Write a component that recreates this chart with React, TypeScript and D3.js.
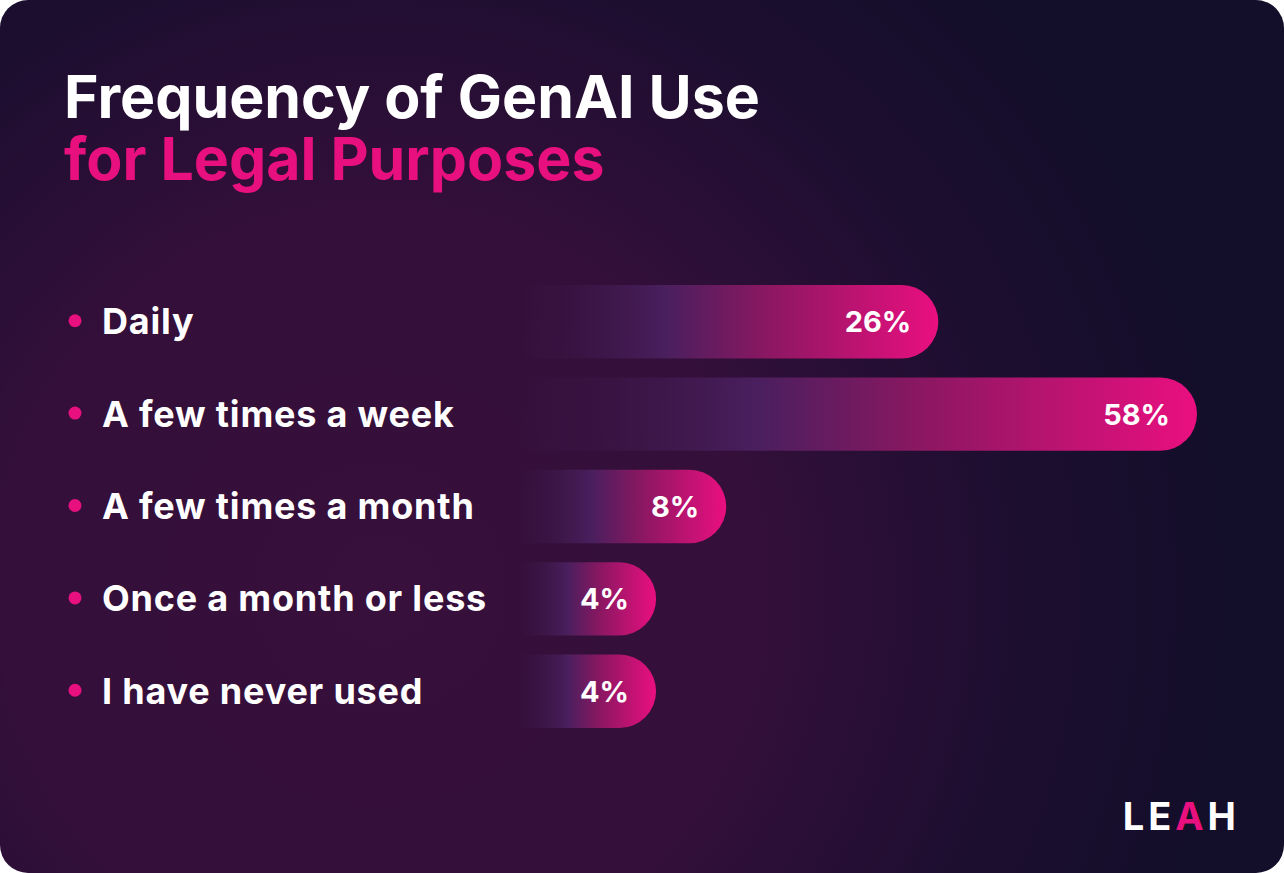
import * as d3 from 'd3';

// survey answers, top to bottom
const categories = [
  'Daily',
  'A few times a week',
  'A few times a month',
  'Once a month or less',
  'I have never used',
];
const shares = [26, 58, 8, 4, 4];
const valueLabels = ['26%', '58%', '8%', '4%', '4%'];

const titleLines = ['Frequency of GenAI Use', 'for Legal Purposes'];

const WIDTH = 1284;
const HEIGHT = 873;
const PINK = '#e8107f';
const FONT = 'Inter, "Noto Sans", sans-serif';

const BAR_LEFT = 520;
const MARGIN = { top: 285, bottom: 145 };

export default function App() {
  // rows
  const yScale = d3
    .scaleBand<string>()
    .domain(categories)
    .range([MARGIN.top, HEIGHT - MARGIN.bottom])
    .paddingInner(0.205)
    .paddingOuter(0);

  // bar length (the design stretches short bars, so a pow scale fits it best)
  const xScale = d3.scalePow().exponent(0.6).domain([0, 58]).range([0, 677]);

  const barH = yScale.bandwidth();
  const r = barH / 2;

  const barPath = (x0: number, x1: number, y: number) => {
    const p = d3.path();
    p.moveTo(x0, y);
    p.lineTo(x1 - r, y);
    p.arc(x1 - r, y + r, r, -Math.PI / 2, Math.PI / 2);
    p.lineTo(x0, y + barH);
    p.closePath();
    return p.toString();
  };

  return (
    <div>
      <style>{`body{margin:0;background:#fff}`}</style>
      <svg width={WIDTH} height={HEIGHT} style={{ display: 'block' }}>
        <defs>
          <radialGradient
            id="bg"
            gradientUnits="userSpaceOnUse"
            cx={380}
            cy={590}
            r={850}
          >
            <stop offset="0" stopColor="#37103b" />
            <stop offset="0.45" stopColor="#330f39" />
            <stop offset="0.75" stopColor="#1d0e30" />
            <stop offset="1" stopColor="#130e2a" />
          </radialGradient>
          <linearGradient id="bar" x1="0" x2="1" y1="0" y2="0">
            <stop offset="0" stopColor="#4a1f5e" stopOpacity={0} />
            <stop offset="0.1" stopColor="#3f1a4e" stopOpacity={0.3} />
            <stop offset="0.35" stopColor="#4a1f5e" stopOpacity={1} />
            <stop offset="0.6" stopColor="#8d1762" />
            <stop offset="1" stopColor="#ea0f80" />
          </linearGradient>
        </defs>

        <rect width={WIDTH} height={HEIGHT} rx={28} fill="url(#bg)" />

        {/* title */}
        <g fontFamily={FONT} fontWeight={700} fontSize={59}>
          <text x={64} y={118} fill="#fff">
            {titleLines[0]}
          </text>
          <text x={64} y={180} fill={PINK}>
            {titleLines[1]}
          </text>
        </g>

        {/* rows */}
        {categories.map((c, i) => {
          const y = yScale(c) ?? 0;
          const cy = y + barH / 2;
          const x1 = BAR_LEFT + xScale(shares[i]);
          return (
            <g key={c} fontFamily={FONT} fontWeight={700}>
              <circle cx={75} cy={cy - 1} r={6.5} fill={PINK} />
              <text
                x={102}
                y={cy + 12.5}
                fontSize={36}
                letterSpacing={0.8}
                fill="#fff"
              >
                {c}
              </text>
              <path d={barPath(BAR_LEFT, x1, y)} fill="url(#bar)" />
              <text
                x={x1 - 27}
                y={cy + 10.5}
                fontSize={29}
                fill="#fff"
                textAnchor="end"
              >
                {valueLabels[i]}
              </text>
            </g>
          );
        })}

        {/* logo */}
        <text
          x={1240}
          y={830}
          textAnchor="end"
          fontFamily={FONT}
          fontWeight={700}
          fontSize={38}
          letterSpacing={4}
          fill="#fff"
        >
          LE<tspan fill={PINK}>A</tspan>H
        </text>
      </svg>
    </div>
  );
}
